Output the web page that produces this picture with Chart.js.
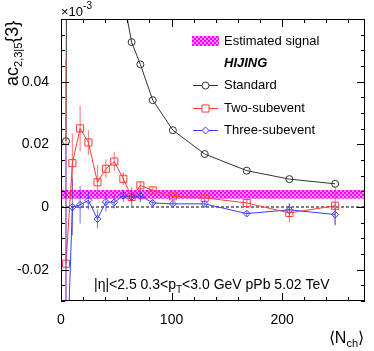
<!DOCTYPE html>
<html>
<head>
<meta charset="utf-8">
<script src="https://cdn.jsdelivr.net/npm/chart.js@4.4.1/dist/chart.umd.min.js"></script>
<style>
  body { margin: 0; background: #fff; }
  #c { display: block; }
</style>
</head>
<body>
<canvas id="c" width="374" height="351"></canvas>
<script>
// <Nch> bins (same for all three series)
let nch = [4.5, 10.3, 17.3, 24.8, 33, 40.6, 48.2, 56.4, 63.9, 71.8, 83, 101.2, 130, 168, 206.6, 248]
// standard method, first points go way above the frame
let standardVals = [0.021, 0.6, 0.3, 0.2, 0.14, 0.1, 0.08, 0.0668, 0.0526, 0.0455, 0.0341, 0.0245, 0.0169, 0.0116, 0.0089, 0.0074]
let twoSubVals = [-0.0181, 0.014, 0.0251, 0.0206, 0.0079, 0.0122, 0.0145, 0.009, 0.0032, 0.0069, 0.0053, 0.0034, 0.0029, 0.0013, -0.0019, 0.0004]
let twoSubErr = [0.065, 0.0095, 0.0073, 0.004, 0.0055, 0.003, 0.003, 0.002, 0.0015, 0.0012, 0.001, 0.0008, 0.0008, 0.001, 0.003, 0.006]
let threeSubVals = [-0.06, 0.0, 0.0007, 0.0021, -0.0038, 0.0016, 0.0015, 0.0036, 0.0032, 0.0036, 0.0013, 0.001, 0.001, -0.0021, -0.0009, -0.0024]
let threeSubErr = [0.08, 0.009, 0.006, 0.003, 0.003, 0.003, 0.002, 0.002, 0.003, 0.002, 0.001, 0.0008, 0.0008, 0.0008, 0.002, 0.0035]
// estimated signal band
let bandLo = 0.0026
let bandHi = 0.0054
let xRange = [0, 275]
let yRange = [-0.03, 0.06]
let xTicks = [0, 100, 200]
let xTickLabels = ['0', '100', '200']
let xMinorStep = 20
let yTicks = [-0.02, 0, 0.02, 0.04]
let yTickLabels = ['-0.02', '0', '0.02', '0.04']
let yMinorStep = 0.005

const FONT = '"Liberation Sans", Arial, Helvetica, sans-serif'

function makePattern() {
    const c = document.createElement('canvas')
    c.width = 4; c.height = 4
    const g = c.getContext('2d')
    g.fillStyle = '#ff8cff'
    g.fillRect(0, 0, 4, 4)
    g.fillStyle = '#ff00ff'
    g.fillRect(0, 0, 2, 2)
    g.fillRect(2, 2, 2, 2)
    return g.createPattern(c, 'repeat')
}
const bandFill = makePattern()

function pts(xs, ys) {
    return xs.map((x, i) => ({ x: x, y: ys[i] }))
}

// error bars, ticks inside the frame, frame, legend and the text
const extras = {
    id: 'extras',
    afterDatasetsDraw(chart) {
        const ctx = chart.ctx
        const a = chart.chartArea
        const xs = chart.scales.x, ys = chart.scales.y
        ctx.save()
        ctx.beginPath()
        ctx.rect(a.left, a.top, a.right - a.left, a.bottom - a.top)
        ctx.clip()
        const bars = [[twoSubVals, twoSubErr, 'rgba(255,40,40,0.55)'], [threeSubVals, threeSubErr, 'rgba(40,40,255,0.55)']]
        bars.forEach(b => {
            ctx.strokeStyle = b[2]
            ctx.lineWidth = 1.2
            nch.forEach((n, i) => {
                const px = xs.getPixelForValue(n)
                ctx.beginPath()
                ctx.moveTo(px, ys.getPixelForValue(b[0][i] - b[1][i]))
                ctx.lineTo(px, ys.getPixelForValue(b[0][i] + b[1][i]))
                ctx.stroke()
            })
        })
        ctx.restore()
    },
    afterDraw(chart) {
        const ctx = chart.ctx
        const a = chart.chartArea
        const xs = chart.scales.x, ys = chart.scales.y
        ctx.save()
        ctx.strokeStyle = '#000'
        ctx.lineWidth = 1
        ctx.strokeRect(a.left + 0.5, a.top + 0.5, a.right - a.left - 1, a.bottom - a.top - 1)
        ctx.beginPath()
        for (let v = xRange[0]; v <= xRange[1] + 1e-9; v += xMinorStep) {
            const px = Math.round(xs.getPixelForValue(v)) + 0.5
            const len = xTicks.includes(v) ? 8 : 4
            ctx.moveTo(px, a.bottom); ctx.lineTo(px, a.bottom - len)
            ctx.moveTo(px, a.top); ctx.lineTo(px, a.top + len)
        }
        for (let k = 0; ; k++) {
            const v = yRange[0] + k * yMinorStep
            if (v > yRange[1] + 1e-9) break
            const major = yTicks.some(t => Math.abs(t - v) < 1e-9)
            const py = Math.round(ys.getPixelForValue(v)) + 0.5
            const len = major ? 8 : 4
            ctx.moveTo(a.left, py); ctx.lineTo(a.left + len, py)
            ctx.moveTo(a.right, py); ctx.lineTo(a.right - len, py)
        }
        ctx.stroke()

        // x10^-3
        ctx.fillStyle = '#000'
        ctx.textBaseline = 'alphabetic'
        ctx.textAlign = 'left'
        ctx.font = '13px ' + FONT
        ctx.fillText('\u00d710', 61, 16)
        let w = ctx.measureText('\u00d710').width
        ctx.font = '10px ' + FONT
        ctx.fillText('-3', 61 + w, 9)

        // y title
        ctx.save()
        ctx.translate(18, 86)
        ctx.rotate(-Math.PI / 2)
        ctx.font = '18px ' + FONT
        ctx.fillText('ac', 0, 0)
        let x0 = ctx.measureText('ac').width
        ctx.font = '11px ' + FONT
        ctx.fillText('2,3|5', x0, 4)
        x0 += ctx.measureText('2,3|5').width
        ctx.font = '18px ' + FONT
        ctx.fillText('{3}', x0, 0)
        ctx.restore()

        // x title
        const p1 = '\u27e8N', p3 = '\u27e9'
        ctx.font = '11px ' + FONT
        const wSub = ctx.measureText('ch').width
        ctx.font = '16px ' + FONT
        const w1 = ctx.measureText(p1).width, w3 = ctx.measureText(p3).width
        let xs0 = 364 - w1 - wSub - w3
        ctx.fillText(p1, xs0, 343)
        ctx.font = '11px ' + FONT
        ctx.fillText('ch', xs0 + w1, 347)
        ctx.font = '16px ' + FONT
        ctx.fillText(p3, xs0 + w1 + wSub, 343)

        // kinematic text
        let tx = 94
        ctx.font = '14px ' + FONT
        ctx.fillText('|\u03b7|<2.5 0.3<p', tx, 289)
        tx += ctx.measureText('|\u03b7|<2.5 0.3<p').width
        ctx.font = '10px ' + FONT
        ctx.fillText('T', tx, 293)
        tx += ctx.measureText('T').width
        ctx.font = '14px ' + FONT
        ctx.fillText('<3.0 GeV pPb 5.02 TeV', tx, 289)

        // legend
        ctx.fillStyle = bandFill
        ctx.fillRect(192, 36, 27, 10)
        ctx.fillStyle = '#000'
        ctx.textBaseline = 'middle'
        ctx.font = '13px ' + FONT
        ctx.fillText('Estimated signal', 224, 41)
        ctx.font = 'italic bold 13px ' + FONT
        ctx.fillText('HIJING', 224, 63)
        ctx.font = '13px ' + FONT
        const leg = [['Standard', '#333', 85, 'circle'], ['Two-subevent', 'rgb(255,60,60)', 108, 'rect'], ['Three-subevent', 'rgb(60,60,255)', 130, 'rectRot']]
        leg.forEach(l => {
            ctx.strokeStyle = l[1]
            ctx.lineWidth = 1
            ctx.beginPath()
            ctx.moveTo(193, l[2] + 0.5); ctx.lineTo(218, l[2] + 0.5)
            ctx.stroke()
            ctx.fillStyle = '#fff'
            Chart.helpers.drawPoint(ctx, { pointStyle: l[3], radius: l[3] == 'rect' ? 5 : 3.5, borderWidth: 1, rotation: 0 }, 205.5, l[2] + 0.5)
            ctx.fillStyle = '#000'
            ctx.fillText(l[0], 224, l[2])
        })
        ctx.restore()
    }
}

const config = {
    type: 'line',
    data: {
        datasets: [
            {
                label: 'Standard', data: pts(nch, standardVals), order: 1,
                borderColor: '#333', backgroundColor: 'rgba(255,255,255,0)', borderWidth: 1,
                pointStyle: 'circle', pointRadius: 3.5, pointBorderWidth: 1, fill: false
            },
            {
                label: 'Two-subevent', data: pts(nch, twoSubVals), order: 2,
                borderColor: 'rgb(255,60,60)', backgroundColor: 'rgba(255,255,255,0)', borderWidth: 1,
                pointStyle: 'rect', pointRadius: 5, pointBorderWidth: 1, fill: false
            },
            {
                label: 'Three-subevent', data: pts(nch, threeSubVals), order: 3,
                borderColor: 'rgb(60,60,255)', backgroundColor: 'rgba(255,255,255,0)', borderWidth: 1,
                pointStyle: 'rectRot', pointRadius: 3.5, pointBorderWidth: 1, fill: false
            },
            {
                label: 'zero', data: pts(xRange, [0, 0]), order: 4,
                borderColor: '#000', borderWidth: 1, borderDash: [3, 2], pointRadius: 0, fill: false
            },
            {
                label: 'bandLo', data: pts(xRange, [bandLo, bandLo]), order: 6,
                borderWidth: 0, borderColor: 'rgba(0,0,0,0)', pointRadius: 0, fill: false
            },
            {
                label: 'Estimated signal', data: pts(xRange, [bandHi, bandHi]), order: 5,
                borderWidth: 0, borderColor: 'rgba(0,0,0,0)', pointRadius: 0,
                fill: '-1', backgroundColor: bandFill
            }
        ]
    },
    options: {
        responsive: false,
        animation: false,
        layout: { padding: { left: 0, right: 9, top: 19, bottom: 0 } },
        plugins: { legend: { display: false }, tooltip: { enabled: false } },
        scales: {
            x: {
                type: 'linear', min: xRange[0], max: xRange[1],
                grid: { display: false }, border: { display: false },
                afterBuildTicks: s => { s.ticks = xTicks.map(v => ({ value: v })) },
                afterFit: s => { s.height = 50 },
                ticks: {
                    autoSkip: false, maxRotation: 0, padding: 3, color: '#000',
                    font: { family: FONT, size: 14 },
                    callback: (v) => xTickLabels[xTicks.indexOf(v)]
                }
            },
            y: {
                type: 'linear', min: yRange[0], max: yRange[1],
                grid: { display: false }, border: { display: false },
                afterBuildTicks: s => { s.ticks = yTicks.map(v => ({ value: v })) },
                afterFit: s => { s.width = 61 },
                ticks: {
                    autoSkip: false, padding: 4, color: '#000',
                    font: { family: FONT, size: 14 },
                    callback: (v) => yTickLabels[yTicks.indexOf(v)]
                }
            }
        }
    },
    plugins: [extras]
}

var myChart = new Chart(document.getElementById('c'), config)
</script>
</body>
</html>
